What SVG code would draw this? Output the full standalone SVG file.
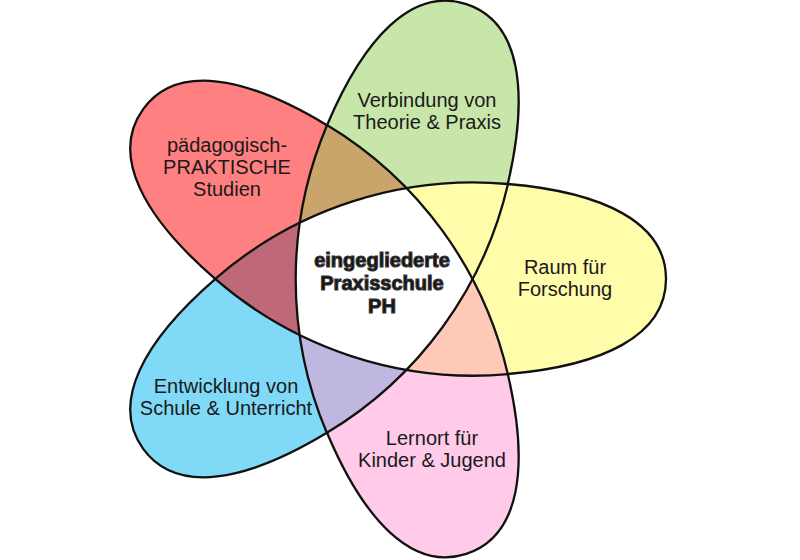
<svg xmlns="http://www.w3.org/2000/svg" xmlns:xlink="http://www.w3.org/1999/xlink" width="800" height="560" viewBox="0 0 800 560">
<defs>
<style>
.lbl{font-family:"Liberation Sans",Arial,sans-serif;font-size:20px;fill:#1a1a1a;text-anchor:middle}
.ctr{font-family:"Liberation Sans",Arial,sans-serif;font-size:20px;font-weight:bold;fill:#111;stroke:#333;stroke-width:1.1;text-anchor:middle}
.line{fill:none;stroke:#111;stroke-width:2.3;stroke-linejoin:round;stroke-linecap:round}
</style>
<path id="td" d="M -162,0 C -81.2,70.2 24.4,104.3 131,95 C 225,87 289,57 289,0 C 289,-57 225,-87 131,-95 C 24.4,-104.3 -81.2,-70.2 -162,0 Z"/>
<path id="unit" d="M 131,95 C 225,87 289,57 289,0 C 289,-57 225,-87 131,-95 C 24.4,-104.3 -81.2,-70.2 -162,0"/>
<clipPath id="c0"><use xlink:href="#td" href="#td" transform="translate(377 279) rotate(0)"/></clipPath>
<clipPath id="c72"><use xlink:href="#td" href="#td" transform="translate(377 279) rotate(72)"/></clipPath>
<clipPath id="c144"><use xlink:href="#td" href="#td" transform="translate(377 279) rotate(144)"/></clipPath>
<clipPath id="c216"><use xlink:href="#td" href="#td" transform="translate(377 279) rotate(216)"/></clipPath>
<clipPath id="c288"><use xlink:href="#td" href="#td" transform="translate(377 279) rotate(288)"/></clipPath>
</defs>
<rect x="0" y="0" width="800" height="560" fill="#ffffff"/>

<g id="petal-red">
<use href="#td" transform="translate(377 279) rotate(216)" fill="#ff8080"/>
<text class="lbl" x="227" y="152">pädagogisch-</text>
<text class="lbl" x="227" y="174">PRAKTISCHE</text>
<text class="lbl" x="227" y="196">Studien</text>
</g>
<g id="petal-green">
<use href="#td" transform="translate(377 279) rotate(288)" fill="#c8e6a9"/>
<text class="lbl" x="427" y="107">Verbindung von</text>
<text class="lbl" x="427" y="129">Theorie &amp; Praxis</text>
</g>
<g id="petal-yellow">
<use href="#td" transform="translate(377 279) rotate(0)" fill="#fffcaa"/>
<text class="lbl" x="565" y="274">Raum für</text>
<text class="lbl" x="565" y="296">Forschung</text>
</g>
<g id="petal-pink">
<use href="#td" transform="translate(377 279) rotate(72)" fill="#ffcbe8"/>
<text class="lbl" x="432" y="445">Lernort für</text>
<text class="lbl" x="432" y="467">Kinder &amp; Jugend</text>
</g>
<g id="petal-blue">
<use href="#td" transform="translate(377 279) rotate(144)" fill="#80d9f7"/>
<text class="lbl" x="226" y="393">Entwicklung von</text>
<text class="lbl" x="226" y="415">Schule &amp; Unterricht</text>
</g>

<g id="overlaps">
<g clip-path="url(#c288)"><use href="#td" transform="translate(377 279) rotate(0)" fill="#fffcaa"/></g>
<g clip-path="url(#c72)"><use href="#td" transform="translate(377 279) rotate(0)" fill="#ffc9b8"/></g>
<g clip-path="url(#c144)"><use href="#td" transform="translate(377 279) rotate(72)" fill="#bfb7e0"/></g>
<g clip-path="url(#c216)"><use href="#td" transform="translate(377 279) rotate(144)" fill="#bf6878"/></g>
<g clip-path="url(#c288)"><use href="#td" transform="translate(377 279) rotate(216)" fill="#c9a56c"/></g>
</g>

<g id="center">
<g clip-path="url(#c144)"><g clip-path="url(#c72)"><use href="#td" transform="translate(377 279) rotate(0)" fill="#ffffff"/></g></g>
<text class="ctr" x="382" y="267">eingegliederte</text>
<text class="ctr" x="382" y="290">Praxisschule</text>
<text class="ctr" x="382" y="313">PH</text>
</g>

<g id="outline" class="line">
<use href="#unit" transform="translate(377 279) rotate(0)"/>
<use href="#unit" transform="translate(377 279) rotate(72)"/>
<use href="#unit" transform="translate(377 279) rotate(144)"/>
<use href="#unit" transform="translate(377 279) rotate(216)"/>
<use href="#unit" transform="translate(377 279) rotate(288)"/>
</g>
</svg>
